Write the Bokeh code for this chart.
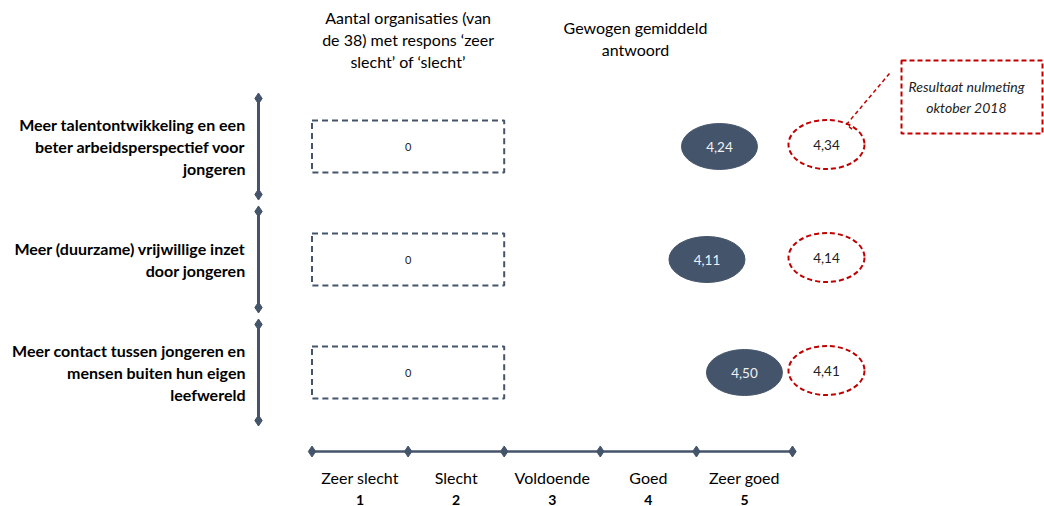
from bokeh.plotting import figure
from bokeh.models import Range1d, ColumnDataSource, Label
from bokeh.embed import file_html
from bokeh.resources import INLINE
from bokeh.core.properties import value

# ---------------- data ----------------
categories = [
    "Meer talentontwikkeling en een\nbeter arbeidsperspectief voor\njongeren",
    "Meer (duurzame) vrijwillige inzet\ndoor jongeren",
    "Meer contact tussen jongeren en\nmensen buiten hun eigen\nleefwereld",
]
n_bad = [0, 0, 0]                      # aantal organisaties 'zeer slecht' of 'slecht'
weighted_avg = [4.24, 4.11, 4.50]      # gewogen gemiddeld antwoord
baseline_2018 = [4.34, 4.14, 4.41]     # resultaat nulmeting oktober 2018
scale_labels = ["Zeer slecht", "Slecht", "Voldoende", "Goed", "Zeer goed"]
scale_numbers = [1, 2, 3, 4, 5]
header_count = "Aantal organisaties (van\nde 38) met respons \u2018zeer\nslecht\u2019 of \u2018slecht\u2019"
header_avg = "Gewogen gemiddeld\nantwoord"
callout_text = "Resultaat nulmeting\noktober 2018"

# ---------------- style ----------------
SLATE = "#44546A"
RED = "#C00000"
INK = "#000000"
FONT = "Lato"

# ---------------- layout ----------------
W, H = 1044, 506
UNIT = 96.1      # px per scale unit
X0 = 311.5       # page x of scale position 0
ROW = 113        # px per row
Y0 = 146         # page y of row 0


def X(px):
    return (px - X0) / UNIT


def Y(py):
    return (py - Y0) / ROW


p = figure(width=W, height=H, output_backend="svg", toolbar_location=None,
           x_range=Range1d(X(0), X(W)), y_range=Range1d(Y(H), Y(0)),
           min_border=0)
p.axis.visible = False
p.grid.visible = False
p.outline_line_color = None
p.background_fill_color = "white"

rows = list(range(len(categories)))
fmt = lambda v: f"{v:.2f}".replace(".", ",")

# left category brackets
bx = X(258)
half = 0.425
p.segment(x0=[bx] * len(rows), y0=[r - half for r in rows],
          x1=[bx] * len(rows), y1=[r + half for r in rows],
          line_color=SLATE, line_width=3)
p.scatter(x=[bx] * (2 * len(rows)), y=[r + s * half for r in rows for s in (-1, 1)],
          marker="diamond", size=11, color=SLATE)

# category labels
p.text(x=[X(245)] * len(rows), y=rows, text=categories,
       text_align="right", text_baseline="middle", text_font=value(FONT),
       text_font_style="bold", text_font_size="16px", text_color=INK,
       text_line_height=1.15)

# dashed boxes for counts (scale bins 1 and 2)
bins = [k - 0.5 for k in scale_numbers]
box_center = (bins[0] + bins[1]) / 2
box_width = 2.0
p.rect(x=[box_center] * len(rows), y=rows, width=box_width, height=52,
       height_units="screen", fill_alpha=0, line_color=SLATE, line_width=2,
       line_dash="6 4")
p.text(x=[box_center] * len(rows), y=rows, text=[str(v) for v in n_bad],
       text_align="center", text_baseline="middle", text_font=value(FONT),
       text_font_size="11px", text_color="#222222")

# weighted average ellipses
src = ColumnDataSource(dict(x=weighted_avg, y=rows, t=[fmt(v) for v in weighted_avg]))
p.ellipse(x="x", y="y", width=76, height=46, width_units="screen",
          height_units="screen", source=src, fill_color=SLATE, line_color=SLATE)
p.text(x="x", y="y", text="t", source=src, text_align="center",
       text_baseline="middle", text_font=value(FONT), text_font_size="13.5px",
       text_color="#EEF1F5")

# baseline 2018 ellipses (dashed red)
rx = X(826)
src2 = ColumnDataSource(dict(x=[rx] * len(rows), y=[r - 2 / ROW for r in rows],
                             t=[fmt(v) for v in baseline_2018]))
p.ellipse(x="x", y="y", width=76, height=49, width_units="screen",
          height_units="screen", source=src2, fill_alpha=0, line_color=RED,
          line_width=2, line_dash="5 3")
p.text(x="x", y="y", text="t", source=src2, text_align="center",
       text_baseline="middle", text_font=value(FONT), text_font_size="13.5px",
       text_color="#222222")

# headers
p.text(x=[box_center], y=[Y(39)], text=[header_count], text_align="center",
       text_baseline="middle", text_font=value(FONT), text_font_size="16px",
       text_color=INK, text_line_height=1.15)
p.text(x=[X(635)], y=[Y(38)], text=[header_avg], text_align="center",
       text_baseline="middle", text_font=value(FONT), text_font_size="16px",
       text_color=INK, text_line_height=1.15)

# bottom scale axis
edges = list(range(len(scale_labels) + 1))
ay = Y(451)
p.line(x=[edges[0], edges[-1]], y=[ay, ay], line_color=SLATE, line_width=2.5)
p.scatter(x=edges, y=[ay] * len(edges), marker="diamond", size=11, color=SLATE)
p.text(x=bins, y=[Y(477)] * len(bins), text=scale_labels, text_align="center",
       text_baseline="middle", text_font=value(FONT), text_font_size="16px",
       text_color=INK)
for b, n in zip(bins, scale_numbers):
    p.add_layout(Label(x=b, y=Y(499), text=str(n), text_align="center",
                       text_baseline="middle", text_font=FONT,
                       text_font_style="bold", text_font_size="14px",
                       text_color=INK))

# callout
cx0, cx1, cy0, cy1 = X(901), X(1042), Y(60), Y(133)
p.rect(x=[(cx0 + cx1) / 2], y=[(cy0 + cy1) / 2], width=cx1 - cx0,
       height=73, height_units="screen",
       fill_alpha=0, line_color=RED, line_width=2, line_dash="5 3")
p.line(x=[X(889), X(846), X(853)], y=[Y(73), Y(124), Y(130)],
       line_color=RED, line_width=1.5, line_dash="4 3")
p.text(x=[X(966)], y=[(cy0 + cy1) / 2], text=[callout_text],
       text_align="center", text_baseline="middle", text_font=value(FONT),
       text_font_style="italic", text_font_size="14px", text_color="#222222",
       text_line_height=1.2)

open("out.html", "w").write(file_html(p, INLINE))
